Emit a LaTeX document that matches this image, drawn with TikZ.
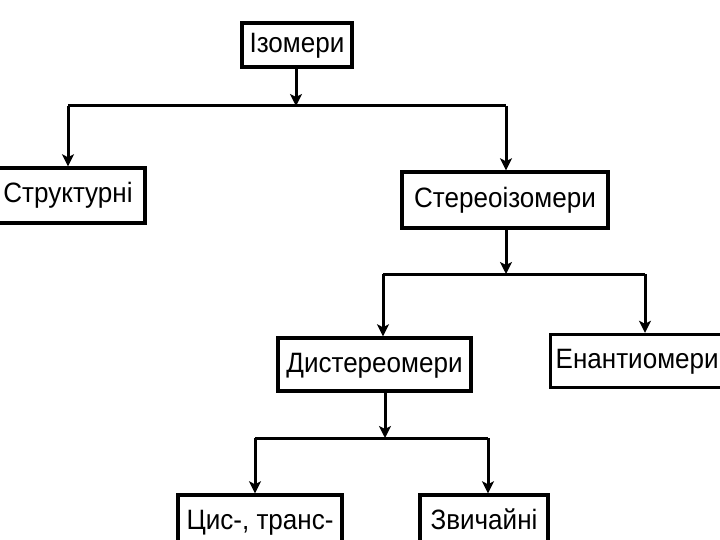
\documentclass[tikz,border=0pt]{standalone}
\usepackage{fontspec}
\setmainfont{Liberation Sans}[FakeStretch=0.93]
\usepackage{tikz}
\usetikzlibrary{arrows.meta,positioning}

\begin{document}
\begin{tikzpicture}[
    x=1pt,y=-1pt,
    box/.style={draw=black,line width=3.4pt,inner sep=0pt,
      text height=20pt,text depth=5pt,
      font=\fontsize{28}{30}\selectfont},
    conn/.style={line width=3pt,-{Stealth[length=12pt,width=12pt,inset=3pt]}},
    bar/.style={line width=3pt}
  ]
  \useasboundingbox (0,0) rectangle (720,540);
  % boxes
  \node [box,minimum width=110pt,minimum height=44pt] (iso) at (297,45) {Ізомери};
  \node [box,minimum width=154pt,minimum height=55pt] (struct) at (68,195.5) {Структурні};
  \node [box,minimum width=206pt,minimum height=56pt] (stereo) at (505,200) {Стереоізомери};
  \node [box,minimum width=193pt,minimum height=53pt] (dist) at (374.5,364.5) {Дистереомери};
  \node [box,minimum height=53pt,text width=185pt,align=left,inner xsep=5pt,
    anchor=west] (enant) at (549,361) {Енантиомери};
  \node [box,minimum width=164pt,minimum height=53pt] (cis) at (260,521.5) {Цис-, транс-};
  \node [box,minimum width=128pt,minimum height=53pt] (usual) at (484,521.5) {Звичайні};
  % junctions
  \coordinate (j1) at (296,106);
  \coordinate (j1l) at (68,106);  \coordinate (j1r) at (506,106);
  \coordinate (j2) at (506,274);
  \coordinate (j2l) at (383,274); \coordinate (j2r) at (645,274);
  \coordinate (j3) at (385,438);
  \coordinate (j3l) at (255,438); \coordinate (j3r) at (488,438);
  % connectors
  \draw [conn] (j1 |- iso.south) -- (j1);
  \draw [bar] (j1l) -- (j1r);
  \draw [conn] (j1l) -- (j1l |- struct.north);
  \draw [conn] (j1r) -- (j1r |- stereo.north);
  \draw [conn] (j2 |- stereo.south) -- (j2);
  \draw [bar] (j2l) -- (j2r);
  \draw [conn] (j2l) -- (j2l |- dist.north);
  \draw [conn] (j2r) -- (j2r |- enant.north);
  \draw [conn] (j3 |- dist.south) -- (j3);
  \draw [bar] (j3l) -- (j3r);
  \draw [conn] (j3l) -- (j3l |- cis.north);
  \draw [conn] (j3r) -- (j3r |- usual.north);
\end{tikzpicture}
\end{document}
